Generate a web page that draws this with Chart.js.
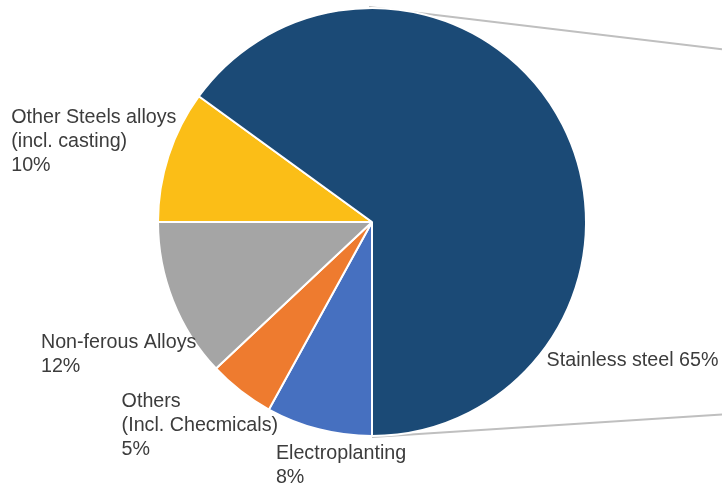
<!DOCTYPE html>
<html>
<head>
<meta charset="utf-8">
<script src="https://cdn.jsdelivr.net/npm/chart.js@4/dist/chart.umd.min.js"></script>
<style>
  html, body { margin: 0; padding: 0; background: #ffffff; }
  #wrap { width: 722px; height: 489px; }
</style>
</head>
<body>
<div id="wrap"><canvas id="c" width="722" height="489"></canvas></div>
<script>
// Data (clockwise from 6 o'clock)
const categories = ["Electroplanting", "Others (Incl. Checmicals)", "Non-ferous Alloys", "Other Steels alloys (incl. casting)", "Stainless steel"];
const values = [8, 5, 12, 10, 65];
const labelLines = [
  ["Electroplanting", "8%"],
  ["Others", "(Incl. Checmicals)", "5%"],
  ["Non-ferous Alloys", "12%"],
  ["Other Steels alloys", "(incl. casting)", "10%"],
  ["Stainless steel 65%"]
];
const colors = ["#4670C0", "#EE7B2F", "#A5A5A5", "#FBBE17", "#1B4A76"];

// label anchors in units of radius, relative to pie centre (left edge x, first-line centre y)
const labelAnchors = [
  [-0.449, 1.081],
  [-1.170, 0.840],
  [-1.547, 0.565],
  [-1.686, -0.486],
  [0.816, 0.649]
];

const connectorPlugin = {
  id: 'connectors',
  beforeDatasetsDraw(chart) {
    const arc = chart.getDatasetMeta(0).data[0];
    const cx = arc.x, cy = arc.y, r = arc.outerRadius;
    const ctx = chart.ctx;
    ctx.save();
    ctx.strokeStyle = '#bfbfbf';
    ctx.lineWidth = 2;
    ctx.beginPath();
    ctx.moveTo(cx - 3, cy - r - 1);
    ctx.lineTo(chart.width, cy - r * 0.807);
    ctx.moveTo(cx, cy + r + 1);
    ctx.lineTo(chart.width, cy + r * 0.9);
    ctx.stroke();
    ctx.restore();
  }
};

const labelPlugin = {
  id: 'labels',
  afterDatasetsDraw(chart) {
    const arc = chart.getDatasetMeta(0).data[0];
    const cx = arc.x, cy = arc.y, r = arc.outerRadius;
    const ctx = chart.ctx;
    ctx.save();
    ctx.fillStyle = '#3c3c3c';
    ctx.font = '19.7px "Liberation Sans", Arial, sans-serif';
    ctx.textAlign = 'left';
    ctx.textBaseline = 'middle';
    labelLines.forEach((lines, i) => {
      const x = cx + labelAnchors[i][0] * r;
      const y = cy + labelAnchors[i][1] * r;
      lines.forEach((t, j) => ctx.fillText(t, x, y + j * 24));
    });
    ctx.restore();
  }
};

new Chart(document.getElementById('c'), {
  type: 'pie',
  data: {
    labels: categories,
    datasets: [{
      data: values,
      backgroundColor: colors,
      borderColor: '#ffffff',
      borderWidth: 2
    }]
  },
  options: {
    responsive: false,
    animation: false,
    rotation: 180,
    layout: { padding: { left: 157, right: 135, top: 7, bottom: 52 } },
    plugins: {
      legend: { display: false },
      tooltip: { enabled: false }
    }
  },
  plugins: [connectorPlugin, labelPlugin]
});
</script>
</body>
</html>
